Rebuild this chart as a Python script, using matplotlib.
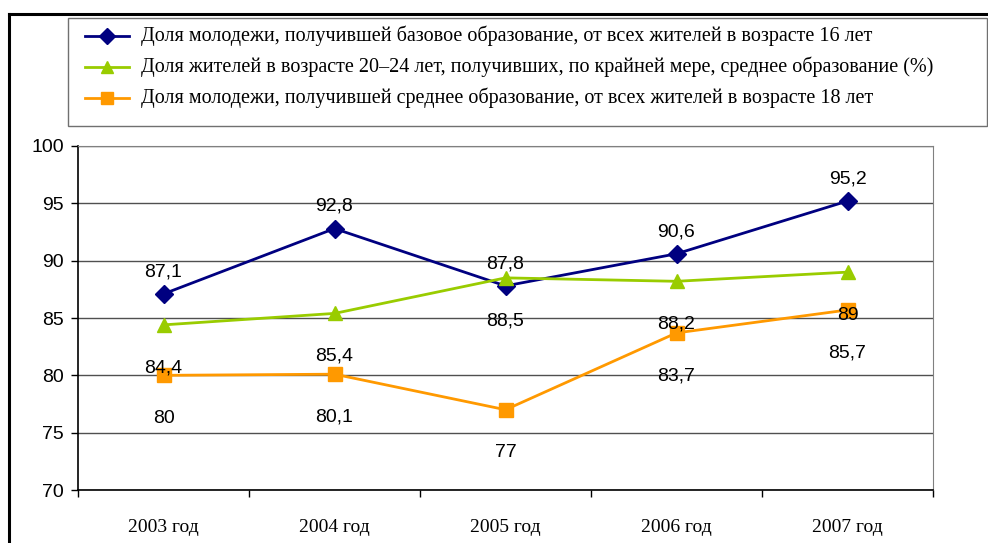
import matplotlib.pyplot as plt
from matplotlib.lines import Line2D
from matplotlib.patches import Rectangle
import numpy as np

years = ["2003 год", "2004 год", "2005 год", "2006 год", "2007 год"]

basic_16 = [87.1, 92.8, 87.8, 90.6, 95.2]
secondary_20_24 = [84.4, 85.4, 88.5, 88.2, 89]
secondary_18 = [80, 80.1, 77, 83.7, 85.7]

series_names = [
    "Доля молодежи, получившей базовое образование, от всех жителей в возрасте 16 лет",
    "Доля жителей в возрасте 20–24 лет, получивших, по крайней мере, среднее образование (%)",
    "Доля молодежи, получившей среднее образование, от всех жителей в возрасте 18 лет",
]

NAVY = "#000080"
GREEN = "#99CC00"
ORANGE = "#FF9900"

W, H = 988, 543
fig = plt.figure(figsize=(W / 100, H / 100), dpi=100)


def fx(px):
    return px / W


def fy(py):
    return 1 - py / H


# outer chart frame (top and left edges)
fig.add_artist(Line2D([fx(9), fx(988)], [fy(14), fy(14)], color="black", lw=2.2))
fig.add_artist(Line2D([fx(9), fx(9)], [fy(14), fy(543)], color="black", lw=2.2))

ax = fig.add_axes([fx(78), fy(490), fx(933) - fx(78), fy(146) - fy(490)])
x = np.arange(len(years))

styles = [
    (basic_16, NAVY, "D", 9.5),
    (secondary_20_24, GREEN, "^", 10.5),
    (secondary_18, ORANGE, "s", 9.5),
]
for vals, color, marker, ms in styles:
    ax.plot(x, vals, color=color, lw=2, marker=marker, ms=ms, zorder=3)


def fmt(v):
    return f"{v:g}".replace(".", ",")


# value labels: above for the first series, below for the others
for xi, v in zip(x, basic_16):
    ax.annotate(fmt(v), (xi, v), xytext=(0, 16), textcoords="offset points",
                ha="center", va="center", fontsize=14, family="Liberation Sans")
for vals in (secondary_20_24, secondary_18):
    for xi, v in zip(x, vals):
        ax.annotate(fmt(v), (xi, v), xytext=(0, -31), textcoords="offset points",
                    ha="center", va="center", fontsize=14, family="Liberation Sans")

ax.set_xlim(-0.5, len(years) - 0.5)
ax.set_ylim(70, 100)
ax.set_yticks(range(70, 101, 5))
ax.set_yticklabels([str(t) for t in range(70, 101, 5)], fontsize=14, family="Liberation Sans")
ax.tick_params(axis="y", length=5, width=1, pad=5, color="black")

# category boundaries carry the tick marks, centers carry the labels
ax.set_xticks(np.arange(-0.5, len(years), 1.0))
ax.set_xticklabels([])
ax.set_xticks(x, minor=True)
ax.set_xticklabels(years, minor=True, fontsize=14, family="Liberation Serif")
ax.tick_params(axis="x", which="major", length=5, width=1, direction="out", color="black")
ax.tick_params(axis="x", which="minor", length=0, pad=21)

ax.grid(axis="y", color="#505050", lw=1)
ax.set_axisbelow(True)
for side in ("top", "right"):
    ax.spines[side].set_color("#808080")
for side in ("left", "bottom"):
    ax.spines[side].set_color("black")
    ax.spines[side].set_linewidth(1.2)

# legend box drawn in figure coordinates
fig.add_artist(Rectangle((fx(68), fy(126)), fx(987) - fx(68), fy(18) - fy(126),
                         transform=fig.transFigure, fill=False, edgecolor="#707070", lw=1))
rows = [36, 67, 98]
for row, (vals, color, marker, ms), name in zip(rows, styles, series_names):
    fig.add_artist(Line2D([fx(85), fx(129)], [fy(row), fy(row)], color=color, lw=2,
                          transform=fig.transFigure))
    fig.add_artist(Line2D([fx(107)], [fy(row)], color=color, marker=marker, ms=ms * 0.85,
                          transform=fig.transFigure))
    fig.text(fx(141), fy(row), name, fontsize=14.5, family="Liberation Serif",
             va="center", ha="left")

fig.savefig("out.png", dpi=100)
